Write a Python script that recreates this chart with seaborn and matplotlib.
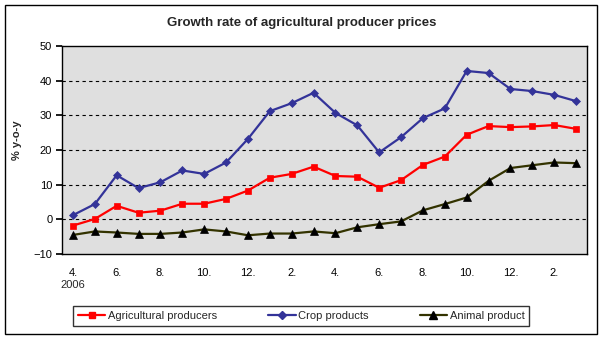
import matplotlib
matplotlib.use("Agg")
import matplotlib.pyplot as plt
from matplotlib.patches import Rectangle
import numpy as np
import pandas as pd
import seaborn as sns

months = ["4.", "5.", "6.", "7.", "8.", "9.", "10.", "11.", "12.", "1.", "2.", "3.",
          "4.", "5.", "6.", "7.", "8.", "9.", "10.", "11.", "12.", "1.", "2.", "3."]
agricultural = [-1.8, 0.1, 3.9, 1.9, 2.5, 4.5, 4.5, 5.9, 8.3, 12.0, 13.1, 15.2,
                12.5, 12.3, 9.1, 11.3, 15.7, 18.1, 24.4, 26.9, 26.6, 26.8, 27.2, 26.1]
crop = [1.2, 4.4, 12.7, 9.0, 10.7, 14.1, 13.1, 16.4, 23.2, 31.2, 33.5, 36.5,
        30.7, 27.1, 19.3, 23.7, 29.2, 32.0, 42.8, 42.2, 37.6, 37.0, 35.9, 34.1]
animal = [-4.5, -3.5, -3.8, -4.2, -4.2, -3.8, -2.9, -3.5, -4.6, -4.1, -4.1, -3.5,
          -4.0, -2.3, -1.4, -0.6, 2.6, 4.4, 6.3, 11.1, 14.8, 15.6, 16.4, 16.2]
series_names = ["Agricultural producers", "Crop products", "Animal product"]

sns.set_theme(style="white")
plt.rcParams["font.family"] = ["Liberation Sans", "DejaVu Sans"]

idx = np.arange(len(months))
df = pd.DataFrame({
    "idx": np.tile(idx, 3),
    "value": agricultural + crop + animal,
    "series": np.repeat(series_names, len(months)),
})

fig = plt.figure(figsize=(6.04, 3.39), dpi=100)
W, H = 604, 339
ax = fig.add_axes([62 / W, 1 - 254 / H, (587 - 62) / W, (254 - 46) / H])
ax.set_facecolor("#DFDFDF")

styles = {
    "Agricultural producers": dict(color="#FF0000", marker="s", ms=5.0, mfc="#FF0000", mec="#FF0000"),
    "Crop products": dict(color="#333399", marker="D", ms=4.0, mfc="#333399", mec="#333399"),
    "Animal product": dict(color="#333300", marker="^", ms=5.5, mfc="#000000", mec="#000000"),
}
for name in series_names:
    st = styles[name]
    sns.lineplot(data=df[df["series"] == name], x="idx", y="value", ax=ax,
                 color=st["color"], linewidth=1.6, marker=st["marker"],
                 markersize=st["ms"], markerfacecolor=st["mfc"],
                 markeredgecolor=st["mec"], markeredgewidth=0.5,
                 label=name, legend=False, zorder=3)

ax.set_xlim(-0.5, len(months) - 0.5)
ax.set_ylim(-10, 50)
ax.set_yticks(range(-10, 51, 10))
ax.set_xticks(idx[::2])
ax.set_xticklabels(months[::2])
for y in range(0, 50, 10):
    ax.axhline(y, color="black", lw=0.8, ls=(0, (3, 3)), zorder=1)
for s in ax.spines.values():
    s.set_color("black")
    s.set_linewidth(1.0)
ax.tick_params(axis="x", labelsize=8, colors="black", length=0, pad=10)
ax.tick_params(axis="y", labelsize=8, colors="black", length=4, direction="out",
               left=True, pad=3)
ax.set_xlabel("")
ax.set_ylabel("% y-o-y", fontsize=8, fontweight="bold")
ax.yaxis.set_label_coords(-(62 - 22) / (587 - 62), (254 - 140) / (254 - 46))

ax.text(0, -(285 - 254) / (254 - 46), "2006", transform=ax.get_xaxis_transform(),
        ha="center", va="center", fontsize=8)

fig.text(0.5 * (5 + 598) / W, 1 - 23 / H, "Growth rate of agricultural producer prices",
         ha="center", va="center", fontsize=9.5, fontweight="bold")

# outer chart border
fig.patches.append(Rectangle((5 / W, 5 / H), (597 - 5) / W, (334 - 5) / H,
                             transform=fig.transFigure, fill=False,
                             edgecolor="black", lw=1.0))

handles = [plt.Line2D([], [], color=styles[n]["color"], lw=1.6, marker=styles[n]["marker"],
                      ms=styles[n]["ms"], mfc=styles[n]["mfc"], mec=styles[n]["mec"])
           for n in series_names]
leg = fig.legend(handles, series_names, ncol=3, loc="center",
                 bbox_to_anchor=((70 + 532) / 2 / W, 1 - 316 / H),
                 fontsize=8, frameon=True, fancybox=False, edgecolor="black",
                 handlelength=2.5, handletextpad=0.2, columnspacing=4.6,
                 borderpad=0.45, borderaxespad=0)
leg.get_frame().set_linewidth(1.0)

fig.savefig("out.png", dpi=100)
